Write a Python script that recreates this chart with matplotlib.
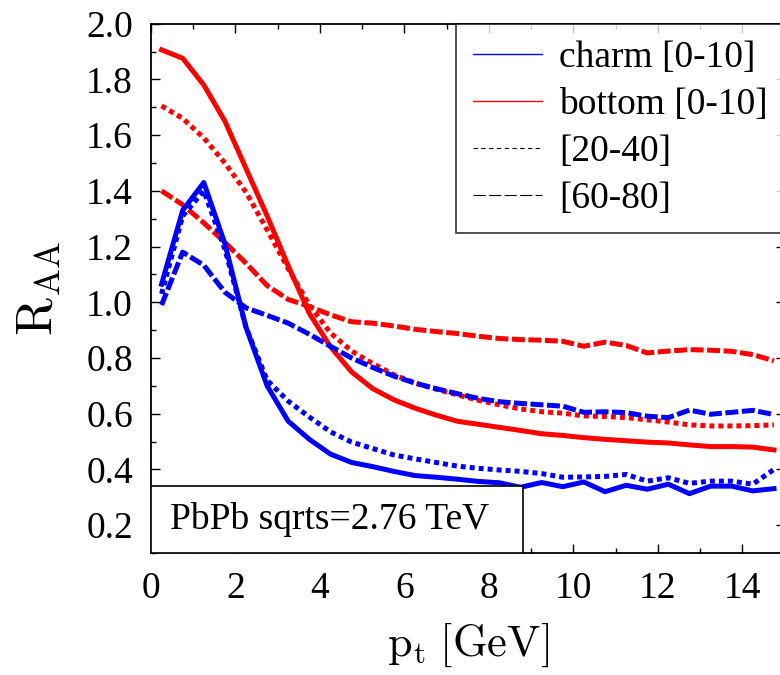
import matplotlib
matplotlib.use("Agg")
import matplotlib.pyplot as plt
from matplotlib.lines import Line2D
from matplotlib.patches import Rectangle
from matplotlib.ticker import MultipleLocator, FormatStrFormatter

plt.rcParams['font.family'] = ['Liberation Serif', 'DejaVu Serif']
plt.rcParams['mathtext.fontset'] = 'cm'

pt = [0.25, 0.75, 1.25, 1.75, 2.25, 2.75, 3.25, 3.75, 4.25, 4.75,
      5.25, 5.75, 6.25, 6.75, 7.25, 7.75, 8.25, 8.75, 9.25, 9.75,
      10.25, 10.75, 11.25, 11.75, 12.25, 12.75, 13.25, 13.75, 14.25, 14.75]

charm_0_10 = [1.065, 1.33, 1.43, 1.21, 0.91, 0.70, 0.573, 0.508, 0.455, 0.425,
              0.41, 0.393, 0.378, 0.372, 0.365, 0.357, 0.352, 0.336, 0.353, 0.338,
              0.355, 0.32, 0.343, 0.329, 0.347, 0.313, 0.34, 0.34, 0.323, 0.331]
charm_20_40 = [1.03, 1.31, 1.40, 1.19, 0.91, 0.72, 0.645, 0.588, 0.535, 0.498,
               0.475, 0.452, 0.438, 0.425, 0.412, 0.404, 0.398, 0.393, 0.385, 0.372,
               0.373, 0.375, 0.382, 0.358, 0.37, 0.35, 0.358, 0.358, 0.347, 0.40]
charm_60_80 = [0.99, 1.18, 1.133, 1.036, 0.98, 0.953, 0.925, 0.885, 0.842, 0.80,
               0.766, 0.735, 0.71, 0.69, 0.672, 0.655, 0.643, 0.637, 0.632, 0.627,
               0.605, 0.607, 0.604, 0.591, 0.586, 0.613, 0.598, 0.605, 0.612, 0.597]
bottom_0_10 = [1.906, 1.876, 1.78, 1.65, 1.48, 1.31, 1.13, 0.96, 0.84, 0.75,
               0.69, 0.65, 0.62, 0.595, 0.573, 0.562, 0.551, 0.540, 0.528, 0.522,
               0.514, 0.508, 0.503, 0.498, 0.495, 0.488, 0.482, 0.482, 0.480, 0.470]
bottom_20_40 = [1.705, 1.66, 1.59, 1.50, 1.395, 1.26, 1.12, 0.99, 0.89, 0.825,
                0.78, 0.74, 0.71, 0.688, 0.668, 0.648, 0.632, 0.617, 0.607, 0.602,
                0.592, 0.590, 0.586, 0.578, 0.570, 0.560, 0.556, 0.556, 0.557, 0.56]
bottom_60_80 = [1.40, 1.35, 1.285, 1.215, 1.14, 1.06, 1.01, 0.985, 0.955, 0.93,
                0.925, 0.915, 0.903, 0.895, 0.888, 0.878, 0.87, 0.866, 0.864, 0.86,
                0.842, 0.857, 0.845, 0.818, 0.825, 0.83, 0.828, 0.824, 0.812, 0.79]

legend_labels = ["charm [0-10]", "bottom [0-10]", "[20-40]", "[60-80]"]
box_text = "PbPb sqrts=2.76 TeV"

fig = plt.figure(figsize=(7.8, 6.75), dpi=100)
ax = fig.add_axes([151/780, (675-553)/675, (784.5-151)/780, (553-23.7)/675])

lw = 3.6
dot = (1.0, 0.8)
dash = (2.6, 0.7)
ax.plot(pt, bottom_60_80, color='red', lw=lw, dashes=dash)
ax.plot(pt, bottom_20_40, color='red', lw=lw, dashes=dot)
ax.plot(pt, bottom_0_10, color='red', lw=lw)
ax.plot(pt, charm_60_80, color='blue', lw=lw, dashes=dash)
ax.plot(pt, charm_20_40, color='blue', lw=lw, dashes=dot)
ax.plot(pt, charm_0_10, color='blue', lw=lw)

ax.set_xlim(0, 15)
ax.set_ylim(0.1, 2.0)
ax.xaxis.set_major_locator(MultipleLocator(2))
ax.xaxis.set_minor_locator(MultipleLocator(1))
ax.yaxis.set_major_locator(MultipleLocator(0.2))
ax.yaxis.set_minor_locator(MultipleLocator(0.1))
ax.yaxis.set_major_formatter(FormatStrFormatter('%.1f'))
ax.tick_params(which='both', direction='in', top=True, right=True, width=1.0)
ax.tick_params(which='major', length=6.5, labelsize=27)
ax.tick_params(which='minor', length=3.5)
ax.tick_params(axis='x', which='major', pad=13)
ax.tick_params(axis='y', which='major', pad=13)
for s in ax.spines.values():
    s.set_linewidth(1.3)

ax.set_xlabel(r'$\mathrm{p_t}$ $\mathrm{[GeV]}$', fontsize=32)
ax.xaxis.set_label_coords(0.5, -0.128)
ax.set_ylabel(r'$\mathrm{R_{AA}}$', fontsize=37)
ax.yaxis.set_label_coords(-0.139, 0.5)

handles = [Line2D([], [], color='blue', lw=1.0),
           Line2D([], [], color='red', lw=1.0),
           Line2D([], [], color='black', lw=0.8, dashes=(4, 3)),
           Line2D([], [], color='black', lw=0.8, dashes=(11, 3))]
leg = ax.legend(handles, legend_labels, loc='upper right', fontsize=27,
                frameon=True, fancybox=False, borderaxespad=0,
                handlelength=1.85, handletextpad=0.45, labelspacing=0.33,
                borderpad=0.45)
leg.get_frame().set_edgecolor('black')
leg.get_frame().set_linewidth(1.2)

ax.add_patch(Rectangle((0, 0), 0.587, 0.127, transform=ax.transAxes,
                       facecolor='white', edgecolor='black', lw=1.2, zorder=5))
ax.text(0.03, 0.063, box_text, transform=ax.transAxes, fontsize=27,
        va='center', ha='left', zorder=6)

fig.savefig('out.png', dpi=100)
